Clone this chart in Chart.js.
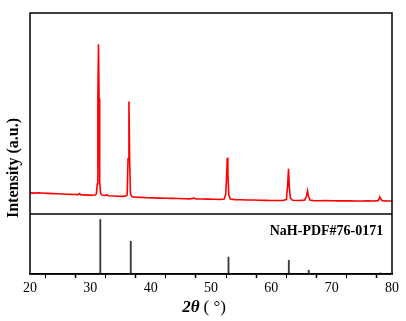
<!DOCTYPE html>
<html>
<head>
<meta charset="utf-8">
<script src="https://cdn.jsdelivr.net/npm/chart.js@4.4.1/dist/chart.umd.min.js"></script>
<style>
  html, body { margin: 0; padding: 0; background: #fff; }
  #wrap { width: 406px; height: 321px; }
</style>
</head>
<body>
<div id="wrap"><canvas id="xrdChart" width="406" height="321"></canvas></div>
<script>
// measured pattern (2theta in degrees, intensity in a.u.)
const twoTheta = [
  20.0, 20.8, 21.5, 22.3, 23.0, 23.8, 24.5, 25.3, 26.0, 26.8, 27.5, 28.0, 28.2, 28.4,
  29.0, 29.7, 30.3, 30.8, 31.0, 31.15, 31.25, 31.35, 31.45, 31.55, 31.7, 31.9,
  32.3, 32.8, 33.0, 33.8, 34.5, 35.2, 35.8, 36.1, 36.25, 36.4, 36.52, 36.65, 36.9,
  37.5, 38.5, 39.5, 40.5, 41.5, 42.5, 43.5, 44.5, 45.5, 46.5, 47.2, 47.5, 48.5,
  49.5, 50.5, 51.5, 52.2, 52.45, 52.6, 52.7, 52.8, 52.95, 53.2, 54.0, 55.0, 56.0,
  57.0, 58.0, 59.0, 60.0, 61.0, 62.0, 62.5, 62.7, 62.85, 62.98, 63.15, 63.5, 64.5,
  65.5, 65.8, 66.0, 66.15, 66.4, 67.0, 68.0, 69.0, 70.0, 71.0, 72.0, 73.0, 74.0,
  75.0, 76.0, 77.0, 77.7, 77.9, 78.0, 78.15, 78.4, 79.0, 80.0
];
const intensity = [
  210, 208, 211, 206, 205, 203, 201, 199, 197, 195, 194, 193, 203, 192,
  190, 188, 187, 189, 200, 300, 1150, 1690, 1150, 320, 205, 190,
  184, 190, 182, 179, 177, 175, 177, 190, 550, 1120, 520, 200, 172,
  168, 165, 162, 160, 158, 157, 155, 154, 152, 151, 158, 150, 149,
  148, 147, 145, 150, 200, 400, 560, 400, 190, 148, 143, 142, 140,
  139, 137, 136, 135, 135, 136, 145, 280, 450, 270, 160, 136, 134,
  138, 170, 230, 180, 140, 133, 132, 133, 132, 131, 132, 131, 130,
  130, 131, 130, 133, 155, 165, 150, 133, 130, 130
];

// standard card NaH-PDF#76-0171
const refTheta = [31.65, 36.7, 52.9, 62.9, 66.2, 78.1];
const refIntensity = [100, 60, 31, 25, 7, 2];

const xTicks = [20, 30, 40, 50, 60, 70, 80];
const cardLabel = "NaH-PDF#76-0171";
const yTitle = "Intensity (a.u.)";

const serif = '"Liberation Serif", "Times New Roman", serif';

// is this tick one of the labelled (major) ones
function isMajor(ctx) {
  return !!(ctx && ctx.tick && xTicks.includes(ctx.tick.value));
}

// frame, divider and texts drawn on top of the chart
const framePlugin = {
  id: "frame",
  afterDraw(chart) {
    const ctx = chart.ctx;
    const a = chart.chartArea;
    const yRed = chart.scales.yRed;
    ctx.save();
    ctx.strokeStyle = "#000";
    ctx.lineWidth = 1.5;
    ctx.strokeRect(a.left, a.top, a.right - a.left, a.bottom - a.top);
    ctx.beginPath();
    ctx.moveTo(a.left, yRed.bottom);
    ctx.lineTo(a.right, yRed.bottom);
    ctx.stroke();

    ctx.fillStyle = "#000";
    // card label
    ctx.font = "bold 14px " + serif;
    ctx.textAlign = "right";
    ctx.textBaseline = "middle";
    ctx.fillText(cardLabel, chart.scales.x.getPixelForValue(78.55), chart.scales.yRef.getPixelForValue(79));

    // y title
    ctx.save();
    ctx.translate(13.5, 168);
    ctx.rotate(-Math.PI / 2);
    ctx.font = "bold 16px " + serif;
    ctx.textAlign = "center";
    ctx.fillText(yTitle, 0, 0);
    ctx.restore();

    // x title: 2θ in bold italic, ( °) plain
    const partA = "2\u03B8";
    const partB = "( \u00B0)";
    const fontA = "italic bold 17px " + serif;
    const fontB = "17px " + serif;
    ctx.font = fontA;
    const wA = ctx.measureText(partA).width;
    ctx.font = fontB;
    const wB = ctx.measureText(partB).width;
    let x = 204 - (wA + wB + 4) / 2;
    ctx.textAlign = "left";
    ctx.font = fontA;
    ctx.fillText(partA, x, 308);
    ctx.font = fontB;
    ctx.fillText(partB, x + wA + 4, 308);
    ctx.restore();
  }
};

function buildChart() {
  const canvas = document.getElementById("xrdChart");
  const pattern = twoTheta.map((t, i) => ({ x: t, y: intensity[i] }));
  const sticks = refTheta.map((t, i) => ({ x: t, y: refIntensity[i] }));

  new Chart(canvas, {
    type: "line",
    data: {
      datasets: [
        {
          label: "sample",
          data: pattern,
          yAxisID: "yRed",
          borderColor: "#ff0000",
          borderWidth: 1.6,
          pointRadius: 0,
          tension: 0,
          fill: false
        },
        {
          type: "bar",
          label: cardLabel,
          data: sticks,
          yAxisID: "yRef",
          backgroundColor: "#3a3a3a",
          barThickness: 1.2,
          grouped: false
        }
      ]
    },
    options: {
      responsive: false,
      animation: false,
      layout: { padding: { left: 30, right: 14, top: 13, bottom: 0 } },
      plugins: {
        legend: { display: false },
        tooltip: { enabled: false }
      },
      scales: {
        x: {
          type: "linear",
          min: 20,
          max: 80,
          offset: false,
          afterBuildTicks: s => {
            s.ticks = [];
            for (let v = 20; v <= 80; v += 5) s.ticks.push({ value: v });
          },
          afterFit: s => { s.height = 47; },
          ticks: {
            color: "#000",
            font: { family: serif, size: 14 },
            padding: 2,
            maxRotation: 0,
            autoSkip: false,
            callback: v => (xTicks.includes(v) ? String(v) : "")
          },
          grid: {
            drawOnChartArea: false,
            tickLength: 4,
            tickColor: "#000",
            tickWidth: c => (isMajor(c) ? 1.5 : 1)
          },
          border: { display: true, color: "#000", width: 1.5 },
          title: { display: false }
        },
        // reference card panel (bottom of the stack)
        yRef: {
          type: "linear",
          position: "left",
          stack: "xrd",
          stackWeight: 60,
          min: 0,
          max: 110,
          ticks: { display: false },
          grid: { display: false },
          border: { display: false },
          afterFit: s => { s.width = 0; }
        },
        // measured pattern panel (top of the stack)
        yRed: {
          type: "linear",
          position: "left",
          stack: "xrd",
          stackWeight: 201,
          min: 0,
          max: 2000,
          ticks: { display: false },
          grid: { display: false },
          border: { display: false },
          afterFit: s => { s.width = 0; }
        }
      }
    },
    plugins: [framePlugin]
  });
}

window.addEventListener("DOMContentLoaded", buildChart);
</script>
</body>
</html>
